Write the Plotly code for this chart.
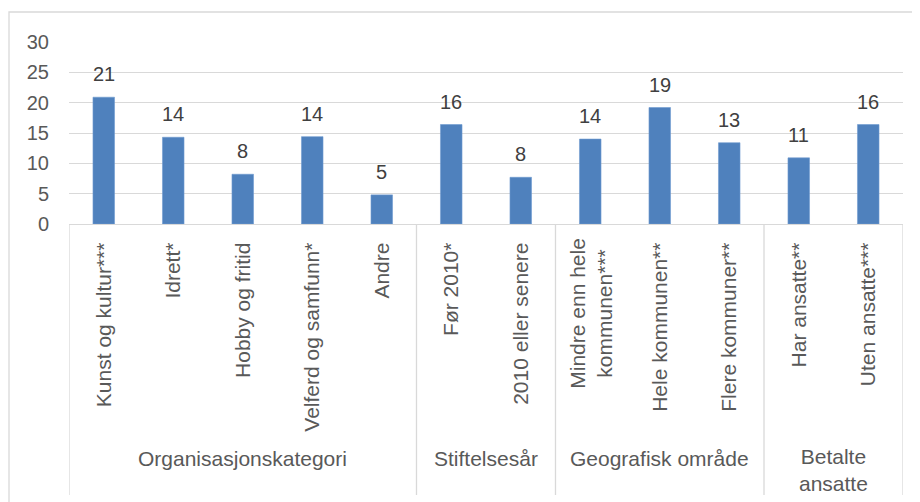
import plotly.graph_objects as go

categories = [
    "Kunst og kultur***", "Idrett*", "Hobby og fritid", "Velferd og samfunn*", "Andre",
    "Før 2010*", "2010 eller senere",
    "Mindre enn hele<br>kommunen***", "Hele kommunen**", "Flere kommuner**",
    "Har ansatte**", "Uten ansatte***",
]
values = [20.9, 14.3, 8.2, 14.4, 4.8, 16.4, 7.7, 14.0, 19.2, 13.4, 10.9, 16.4]
value_labels = ["21", "14", "8", "14", "5", "16", "8", "14", "19", "13", "11", "16"]
groups = ["Organisasjonskategori", "Stiftelsesår", "Geografisk område", "Betalte<br>ansatte"]
group_sizes = [5, 2, 3, 2]
y_ticks = [0, 5, 10, 15, 20, 25, 30]

FONT = "Liberation Sans, Arial, sans-serif"
TXT = "#595959"
GRID = "#d9d9d9"

# page body has an 8px margin, so the figure is offset by 8px
OFF = 8
W, H = 920 - OFF, 502 - OFF
L, R, T, B = 69 - OFF, 17, 42 - OFF, 278
plot_h = H - T - B
plot_w = W - L - R

def py(pix_y):
    return (H - B - (pix_y - OFF)) / plot_h

def px(pix_x):
    return ((pix_x - OFF) - L) / plot_w

fig = go.Figure(go.Bar(
    x=categories, y=values,
    marker=dict(color="#4f81bd", line=dict(color="#6f9bd0", width=0.6)),
    width=0.31,
    hoverinfo="skip",
))

for c, v, t in zip(categories, values, value_labels):
    fig.add_annotation(x=c, y=v, text=t, showarrow=False, yanchor="middle",
                       yshift=23, font=dict(family=FONT, size=20, color="#404040"))

# multi-line category labels drawn centred (as in the original), others as ticks
tick_text = []
for c in categories:
    if "<br>" in c:
        tick_text.append("")
        fig.add_annotation(x=c, y=py(236), yref="paper", text=c, showarrow=False,
                           textangle=-90, yanchor="top", align="center",
                           font=dict(family=FONT, size=21, color=TXT))
    else:
        tick_text.append(c)

start = 0
bottom = py(495)
shapes = []
shapes.append(dict(type="line", xref="x", yref="paper", x0=-0.5, x1=-0.5, y0=0, y1=bottom,
                   line=dict(color=GRID, width=1.3)))
for g, n in zip(groups, group_sizes):
    mid = start + (n - 1) / 2
    fig.add_annotation(x=mid, xref="x", y=py(470 if "<br>" in g else 458), yref="paper",
                       text=g, showarrow=False, yanchor="middle",
                       font=dict(family=FONT, size=21, color=TXT))
    end = start + n - 0.5
    shapes.append(dict(type="line", xref="x", yref="paper", x0=end, x1=end, y0=0, y1=bottom,
                       line=dict(color=GRID, width=1.3)))
    start += n

# outer chart border
shapes.append(dict(type="rect", xref="paper", yref="paper",
                   x0=px(9), x1=px(930), y0=py(12), y1=py(520),
                   line=dict(color=GRID, width=1.3), fillcolor="rgba(0,0,0,0)"))

fig.update_layout(
    width=W, height=H,
    margin=dict(l=L, r=R, t=T, b=B, autoexpand=False),
    paper_bgcolor="white", plot_bgcolor="white",
    showlegend=False,
    font=dict(family=FONT, color=TXT),
    shapes=shapes,
    bargap=0.69,
)
fig.update_xaxes(
    type="category", tickangle=-90, tickfont=dict(family=FONT, size=21, color=TXT),
    tickvals=categories, ticktext=tick_text,
    showline=True, linecolor=GRID, linewidth=1.3,
    ticks="outside", ticklen=9, tickcolor="rgba(0,0,0,0)",
    showgrid=False, range=[-0.5, 11.5], fixedrange=True,
)
fig.update_yaxes(
    range=[0, 30], tickvals=y_ticks, tickfont=dict(family=FONT, size=20, color=TXT),
    showgrid=True, gridcolor=GRID, gridwidth=1.3, zeroline=False,
    ticks="outside", ticklen=15, tickcolor="rgba(0,0,0,0)", showline=False,
    fixedrange=True,
)

fig.write_html("out.html")
